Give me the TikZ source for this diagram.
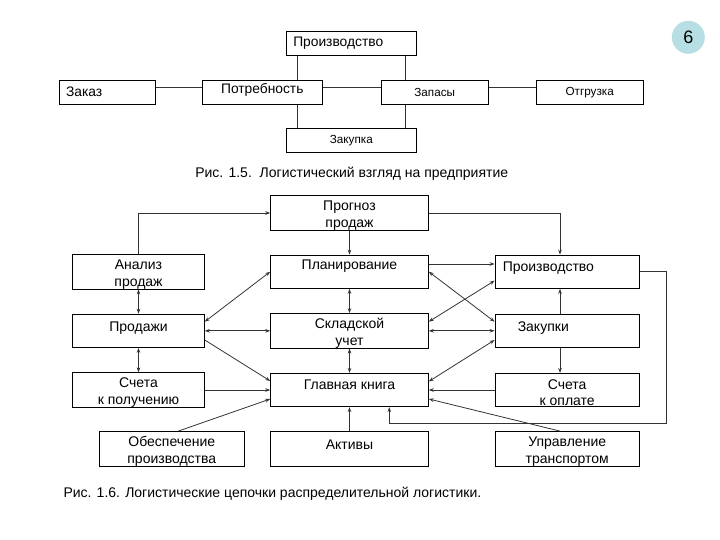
\documentclass[tikz,border=0pt]{standalone}
\usepackage{fontspec}
\setmainfont{Liberation Sans}
\definecolor{KRUGfill}{HTML}{B7DEE3}
\definecolor{LINIYA}{HTML}{333333}
\usetikzlibrary{arrows.meta, positioning}
% strut that pushes two-line texts a bit down
\newcommand{\vniz}{\rule{0pt}{15pt}}

\tikzset{
  blok/.style={draw=black, line width=0.9pt, fill=white, minimum width=#1pt,
    minimum height=33.3pt, inner sep=0pt, align=center,
    font=\fontsize{14}{16.6}\selectfont},
  vys/.style={minimum height=#1pt},
  vverh/.style={text height=9.5pt, text depth=#1pt},
  krupno/.style={font=\fontsize{13.8}{16}\selectfont},
  melko/.style={font=\fontsize{11.7}{13}\selectfont},
  liniya/.style={draw=LINIYA, line width=0.8pt},
  strel/.style={liniya, -{Stealth[length=5pt, width=3.6pt]}},
  dvstrel/.style={liniya, {Stealth[length=5pt, width=3.6pt]}-{Stealth[length=5pt, width=3.6pt]}},
  podpis/.style={inner sep=0pt, font=\fontsize{14}{16}\selectfont},
  krug/.style={circle, fill=KRUGfill, minimum size=33pt, inner sep=0pt,
    font=\fontsize{18}{18}\selectfont}
}

\begin{document}
\begin{tikzpicture}[x=1pt, y=-1pt]
  \useasboundingbox (0,0) rectangle (720,540);
  % Page number
  \node[krug] (nomer) at (688.3,37.3) {6};

  % Fig. 1.5
  \node[blok=95.7, vys=24.3, krupno, inner xsep=6.7pt, text width=82.3pt, align=left] (zakaz) at (107.2,92.2) {Заказ};
  \node[blok=120, vys=24.3, krupno, vverh=7] (potreb) at (262.3,92.2) {Потребность};
  \node[blok=130.7, vys=24.3, krupno, inner xsep=7.3pt, text width=116.1pt, align=left] (proizvA) at (351.3,43.3) {Производство};
  \node[blok=107.3, vys=24.3, melko] (zapasy) at (434.7,92.2) {Запасы};
  \node[blok=107.3, vys=24.3, melko] (otgruz) at (589.7,92.2) {Отгрузка};
  \node[blok=130.7, vys=24.3, melko] (zakupka) at (351.3,140.5) {Закупка};
  % Horizontal links
  \draw[liniya] ([yshift=4.5pt]zakaz.east) -- ([yshift=4.5pt]potreb.west);
  \draw[liniya] ([yshift=4.5pt]potreb.east) -- ([yshift=4.5pt]zapasy.west);
  \draw[liniya] ([yshift=4.5pt]zapasy.east) -- ([yshift=4.5pt]otgruz.west);
  % Vertical links
  \coordinate (vL) at (297.7,0);
  \coordinate (vR) at (405,0);
  \draw[liniya] (proizvA.south -| vL) -- (potreb.north -| vL);
  \draw[liniya] (potreb.south -| vL) -- (zakupka.north -| vL);
  \draw[liniya] (proizvA.south -| vR) -- (zapasy.north -| vR);
  \draw[liniya] (zapasy.south -| vR) -- (zakupka.north -| vR);
  \node[podpis] (ris15) at (351.7,173.3) {Рис. 1.5.\ \ Логистический взгляд на предприятие};

  % Fig. 1.6
  \node[blok=157.6] (prognoz) at (349.5,213) {\vniz Прогноз\\продаж};
  \node[blok=131.6] (analiz) at (138.5,271.7) {\vniz Анализ\\продаж};
  \node[blok=157.6, vverh=14.4] (plan) at (349.5,271.7) {Планирование};
  \node[blok=144.3, vverh=10.4, inner xsep=7.7pt, text width=128.9pt, align=left] (proizvB) at (567.2,271.7) {Производство};
  \node[blok=131.6, vverh=9] (prodazhi) at (138.5,330.8) {Продажи};
  \node[blok=157.6] (sklad) at (349.5,330.8) {\vniz Складской\\учет};
  \node[blok=144.3, vverh=9, inner xsep=22.7pt, text width=98.9pt, align=left] (zakupki) at (567.2,330.8) {Закупки};
  \node[blok=131.6] (schetP) at (138.5,390) {\vniz Счета\\к получению};
  \node[blok=157.6, vverh=11] (kniga) at (349.5,390) {Главная книга};
  \node[blok=144.3] (schetO) at (567.2,390) {\vniz Счета\\к оплате};
  \node[blok=145, vys=34.3] (obesp) at (171.8,448.8) {\vniz Обеспечение\\производства};
  \node[blok=157.6, vys=34.3, vverh=9] (aktivy) at (349.5,448.8) {Активы};
  \node[blok=144.3, vys=34.3] (uprav) at (567.2,448.8) {\vniz Управление\\транспортом};

  % Forecast links
  \draw[strel] (analiz.north) |- (prognoz.west);
  \draw[strel] (prognoz.south) -- (plan.north);
  \draw[strel] (prognoz.east) -| ([xshift=-7.2pt]proizvB.north);
  % Planning and production
  \draw[strel] ([yshift=7.7pt]plan.east) -- ([yshift=7.7pt]proizvB.west);
  \draw[dvstrel] (plan.east) -- ([yshift=9.1pt]zakupki.west);
  \draw[dvstrel] ([yshift=9.1pt]sklad.east) -- ([yshift=-9pt]proizvB.west);
  \draw[dvstrel] (sklad.east) -- (zakupki.west);
  \draw[strel] ([xshift=-7.2pt]zakupki.north) -- ([xshift=-7.2pt]proizvB.south);
  \coordinate (obhod) at (666,423.3);
  \draw[strel] (proizvB.east) -| (obhod) -| ([xshift=39.8pt]kniga.south);
  % Sales side
  \draw[dvstrel] (analiz.south) -- (prodazhi.north);
  \draw[dvstrel] (plan.south) -- (sklad.north);
  \draw[dvstrel] (prodazhi.east) -- (sklad.west);
  \draw[dvstrel] ([yshift=9.1pt]prodazhi.east) -- (plan.west);
  \draw[strel] ([yshift=-9.2pt]prodazhi.east) -- ([yshift=9pt]kniga.west);
  \draw[dvstrel] (prodazhi.south) -- (schetP.north);
  \draw[strel] (schetP.east) -- (kniga.west);
  \draw[strel] ([xshift=6.5pt]obesp.north) -- ([yshift=-9pt]kniga.west);
  % General ledger
  \draw[dvstrel] (sklad.south) -- (kniga.north);
  \draw[strel] (aktivy.north) -- (kniga.south);
  \draw[dvstrel] ([yshift=-9.2pt]zakupki.west) -- ([yshift=8.5pt]kniga.east);
  \draw[strel] ([xshift=-7.2pt]zakupki.south) -- ([xshift=-7.2pt]schetO.north);
  \draw[strel] (schetO.west) -- (kniga.east);
  \draw[strel] ([xshift=-7.2pt]uprav.north) -- ([yshift=-9pt]kniga.east);
  \node[podpis, anchor=west] (ris16) at (63.3,494) {Рис. 1.6. Логистические цепочки распределительной логистики.};
\end{tikzpicture}
\end{document}
